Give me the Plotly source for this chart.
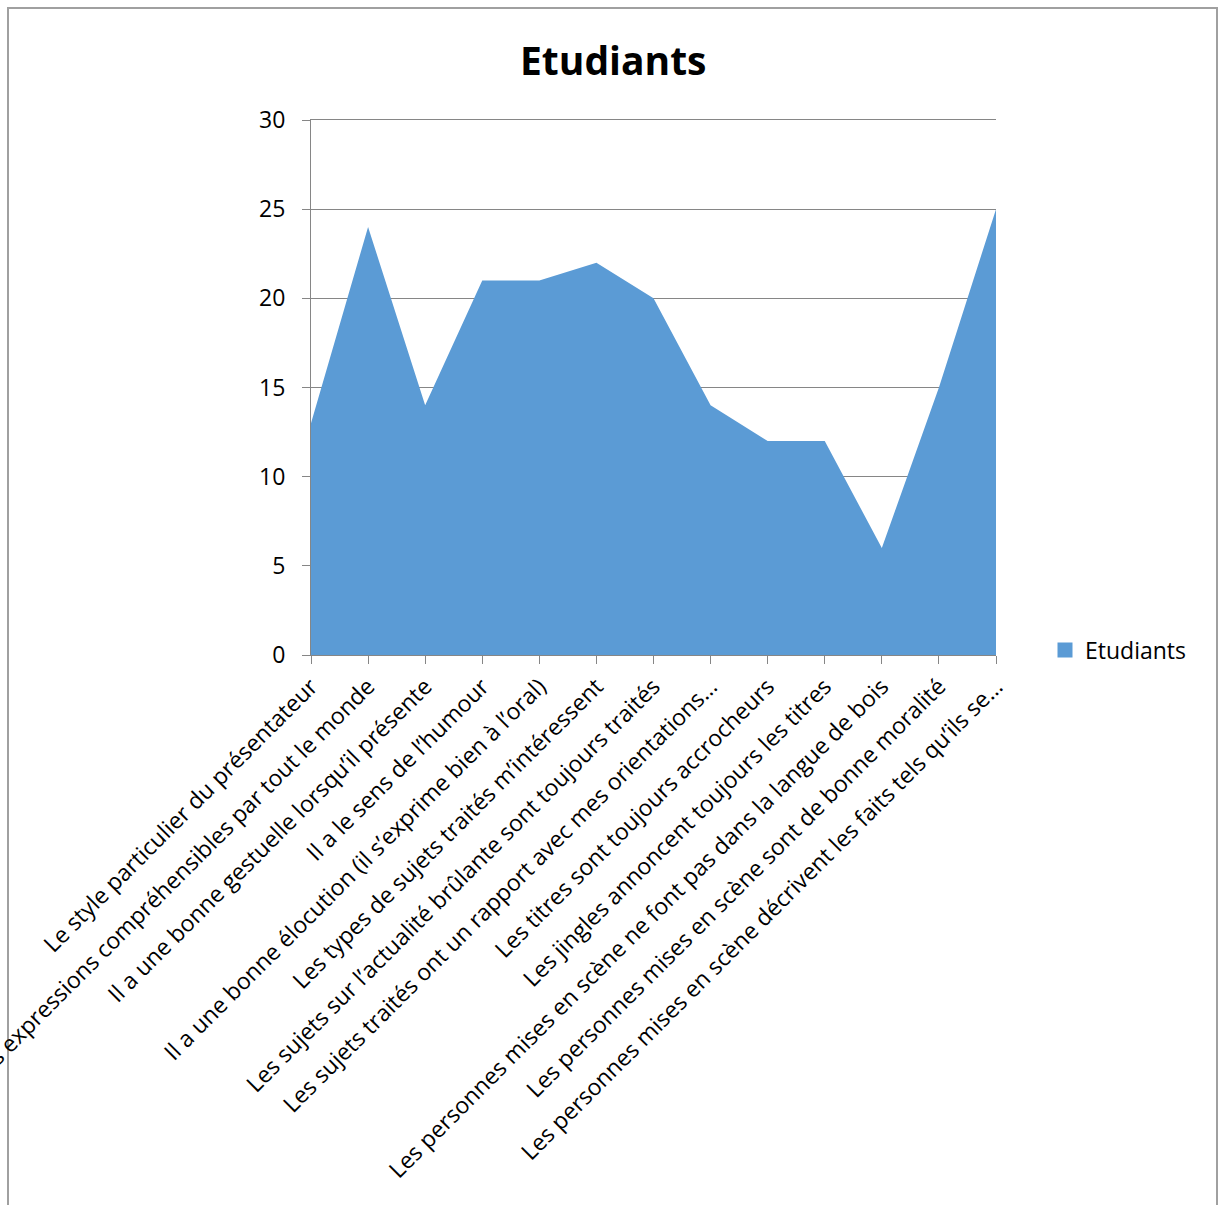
import plotly.graph_objects as go

# Survey statements (x categories) and number of students agreeing
statements = [
    "Le style particulier du présentateur",
    "Il utilise des expressions compréhensibles par tout le monde",
    "Il a une bonne gestuelle lorsqu’il présente",
    "Il a le sens de l’humour",
    "Il a une bonne élocution (il s’exprime bien à l’oral)",
    "Les types de sujets traités m’intéressent",
    "Les sujets sur l’actualité brûlante sont toujours traités",
    "Les sujets traités ont un rapport avec mes orientations…",
    "Les titres sont toujours accrocheurs",
    "Les jingles annoncent toujours les titres",
    "Les personnes mises en scène ne font pas dans la langue de bois",
    "Les personnes mises en scène sont de bonne moralité",
    "Les personnes mises en scène décrivent les faits tels qu’ils se…",
]
etudiants = [13, 24, 14, 21, 21, 22, 20, 14, 12, 12, 6, 15, 25]
y_ticks = [0, 5, 10, 15, 20, 25, 30]

FONT = "Open Sans"
BLUE = "#5B9BD5"
AXIS_GREY = "#868686"
TICK_SIZE = 23

W, H = 1221, 1205
L, R, T, B = 311, 996, 120, 655  # plot area in pixels


def px_x(p):
    return (p - L) / (R - L)


def px_y(p):
    return (B - p) / (B - T)


fig = go.Figure()
# the filled area itself
fig.add_trace(go.Scatter(
    x=list(range(len(statements))),
    y=etudiants,
    name="Etudiants",
    mode="lines",
    fill="tozeroy",
    fillcolor=BLUE,
    line=dict(color=BLUE, width=0),
    hoverinfo="x+y",
    showlegend=False,
))
# square swatch for the legend
fig.add_trace(go.Scatter(
    x=[None], y=[None],
    name="Etudiants",
    mode="markers",
    marker=dict(symbol="square", size=15, color=BLUE),
    showlegend=True,
))

fig.update_layout(
    width=W,
    height=H,
    margin=dict(l=L, r=W - R, t=T, b=H - B, pad=0),
    paper_bgcolor="white",
    plot_bgcolor="white",
    font=dict(family=FONT, size=TICK_SIZE, color="black"),
    showlegend=True,
    legend=dict(
        x=px_x(1045), y=px_y(650), xanchor="left", yanchor="middle",
        font=dict(family=FONT, size=TICK_SIZE, color="black"),
        bgcolor="rgba(0,0,0,0)",
        itemwidth=30,
    ),
    xaxis=dict(
        range=[0, len(statements) - 1],
        tickmode="array",
        tickvals=list(range(len(statements))),
        ticktext=statements,
        tickangle=-45,
        ticks="outside",
        ticklen=8,
        tickcolor=AXIS_GREY,
        showline=True,
        mirror=True,
        linecolor=AXIS_GREY,
        linewidth=1,
        showgrid=False,
        zeroline=False,
        tickfont=dict(family=FONT, size=TICK_SIZE, color="black"),
        ticklabeloverflow="allow",
        automargin=False,
    ),
    yaxis=dict(
        range=[0, 30],
        tickmode="array",
        tickvals=y_ticks,
        ticks="outside",
        ticklen=8,
        tickcolor=AXIS_GREY,
        showline=True,
        linecolor=AXIS_GREY,
        linewidth=1,
        showgrid=True,
        gridcolor=AXIS_GREY,
        gridwidth=1,
        zeroline=False,
        tickfont=dict(family=FONT, size=TICK_SIZE, color="black"),
        ticklabelstandoff=12,
        automargin=False,
    ),
    annotations=[dict(
        text="<b>Etudiants</b>",
        x=px_x(613), y=px_y(60),
        xref="paper", yref="paper",
        xanchor="center", yanchor="middle",
        showarrow=False,
        font=dict(family=FONT, size=39, color="black"),
    )],
    shapes=[dict(
        type="rect",
        xref="paper", yref="paper",
        x0=px_x(8), x1=px_x(1217),
        y0=px_y(1230), y1=px_y(8),
        line=dict(color="#A0A0A0", width=2),
        fillcolor="rgba(0,0,0,0)",
        layer="below",
    )],
)

fig.write_html("out.html")
